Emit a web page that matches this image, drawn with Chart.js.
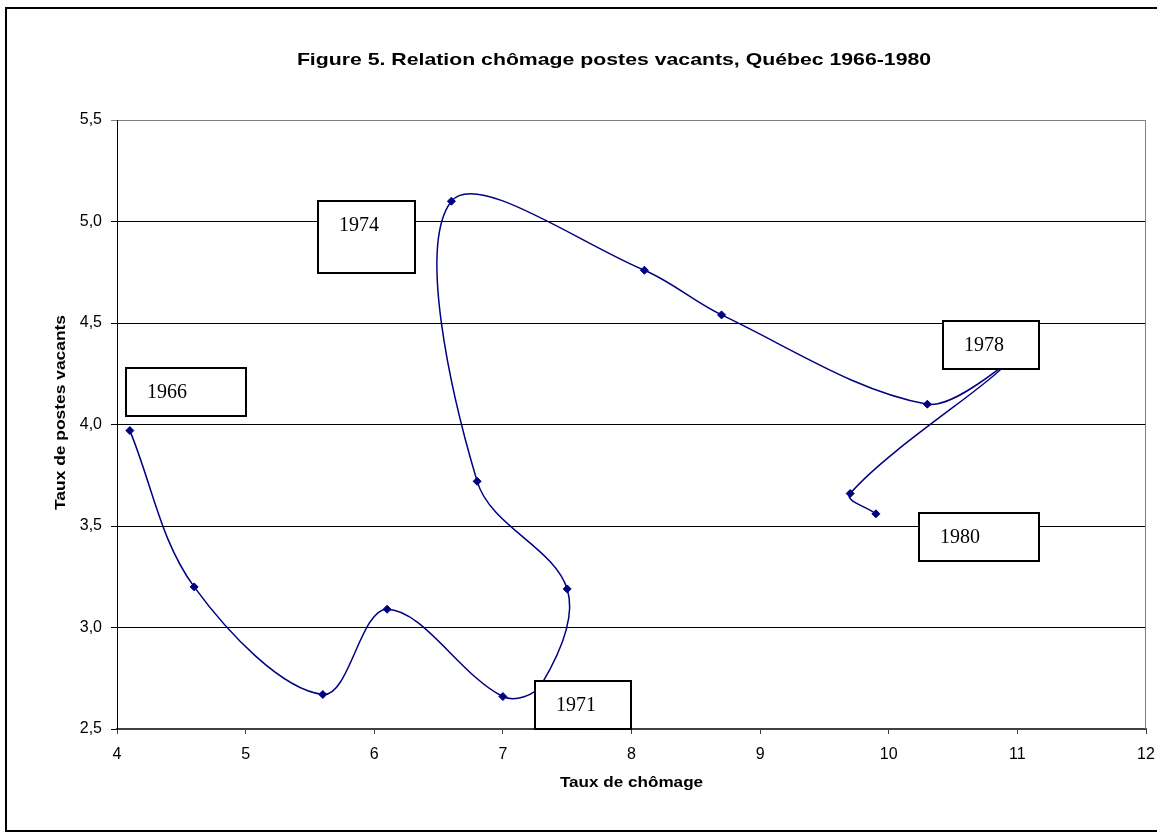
<!DOCTYPE html>
<html>
<head>
<meta charset="utf-8">
<script src="https://cdn.jsdelivr.net/npm/chart.js@4.4.0/dist/chart.umd.min.js"></script>
<style>
html,body{margin:0;padding:0;background:#fff;}
canvas{display:block;}
</style>
</head>
<body>
<canvas id="c" width="1157" height="839"></canvas>
<script>
// ---- data ----
const years = [1966,1967,1968,1969,1970,1971,1972,1973,1974,1975,1976,1977,1978,1979,1980];
const unemploymentRate = [4.1,4.6,5.6,6.1,7.0,7.3,7.5,6.8,6.6,8.1,8.7,10.3,10.9,9.7,9.9];
const vacancyRate = [3.97,3.20,2.67,3.09,2.66,2.72,3.19,3.72,5.10,4.76,4.54,4.10,4.29,3.66,3.56];
const xTickLabels = ['4','5','6','7','8','9','10','11','12'];
const yTickLabels = ['2,5','3,0','3,5','4,0','4,5','5,0','5,5'];
const labelledYears = ['1966','1971','1974','1978','1980'];
const chartTitle = 'Figure 5. Relation chômage postes vacants, Québec 1966-1980';
const xAxisTitle = 'Taux de chômage';
const yAxisTitle = 'Taux de postes vacants';

// ---- layout of the year text boxes (top-left in data units, size in px) ----
const boxLayout = {
  '1966': {x: 4.07,  y: 4.277, w: 120, h: 48},
  '1971': {x: 7.247, y: 2.735, w: 96,  h: 48},
  '1974': {x: 5.562, y: 5.101, w: 97,  h: 72},
  '1978': {x: 10.418,y: 4.509, w: 96,  h: 48},
  '1980': {x: 10.234,y: 3.565, w: 120, h: 48}
};

const points = unemploymentRate.map((x, i) => ({x: x, y: vacancyRate[i]}));
const NAVY = '#000080';
const SANS = "'Liberation Sans', Arial, sans-serif";
const SERIF = "'Liberation Serif', 'Times New Roman', serif";

function stretchedText(ctx, text, x, y, sx, rot) {
  ctx.save();
  ctx.translate(x, y);
  if (rot) ctx.rotate(rot);
  ctx.scale(sx, 1);
  ctx.textAlign = 'center';
  ctx.textBaseline = 'middle';
  ctx.fillText(text, 0, 0);
  ctx.restore();
}

const decor = {
  id: 'decor',
  beforeDraw(chart) {
    const ctx = chart.ctx;
    ctx.save();
    ctx.fillStyle = '#fff';
    ctx.fillRect(0, 0, chart.width, chart.height);
    ctx.strokeStyle = '#000';
    ctx.lineWidth = 2;
    ctx.strokeRect(6, 8, chart.width + 20, 823);
    ctx.restore();
  },
  beforeDatasetsDraw(chart) {
    const ctx = chart.ctx, a = chart.chartArea;
    ctx.save();
    ctx.strokeStyle = '#808080';
    ctx.lineWidth = 1;
    ctx.beginPath();
    ctx.moveTo(a.right - 0.5, a.top);
    ctx.lineTo(a.right - 0.5, a.bottom);
    ctx.stroke();
    ctx.restore();
  },
  afterDatasetsDraw(chart) {
    const ctx = chart.ctx, xs = chart.scales.x, ys = chart.scales.y;
    ctx.save();
    labelledYears.forEach(lbl => {
      const b = boxLayout[lbl];
      const left = Math.round(xs.getPixelForValue(b.x));
      const top = Math.round(ys.getPixelForValue(b.y));
      ctx.fillStyle = '#fff';
      ctx.fillRect(left, top, b.w, b.h);
      ctx.strokeStyle = '#000';
      ctx.lineWidth = 2;
      ctx.strokeRect(left, top, b.w, b.h);
      ctx.fillStyle = '#000';
      ctx.font = '20px ' + SERIF;
      ctx.textAlign = 'left';
      ctx.textBaseline = 'alphabetic';
      ctx.fillText(lbl, left + 21, top + 30);
    });
    ctx.restore();
  },
  afterDraw(chart) {
    const ctx = chart.ctx, a = chart.chartArea;
    ctx.save();
    ctx.fillStyle = '#000';
    ctx.font = 'bold 17px ' + SANS;
    stretchedText(ctx, chartTitle, 614, 60, 1.25, 0);
    ctx.font = 'bold 15px ' + SANS;
    stretchedText(ctx, xAxisTitle, (a.left + a.right) / 2, 783, 1.14, 0);
    stretchedText(ctx, yAxisTitle, 61, (a.top + a.bottom) / 2 - 12, 1.16, -Math.PI / 2);
    ctx.restore();
  }
};

new Chart(document.getElementById('c'), {
  type: 'scatter',
  data: {
    datasets: [{
      label: 'Relation chômage postes vacants',
      data: points,
      showLine: true,
      tension: 0.35,
      borderColor: NAVY,
      borderWidth: 1.5,
      backgroundColor: NAVY,
      pointStyle: 'rectRot',
      pointRadius: 4,
      pointBorderWidth: 1,
      pointBorderColor: NAVY,
      pointBackgroundColor: NAVY
    }]
  },
  options: {
    responsive: false,
    animation: false,
    events: [],
    layout: {padding: {top: 120, right: 11, bottom: 0, left: 0}},
    plugins: {
      legend: {display: false},
      title: {display: false},
      tooltip: {enabled: false}
    },
    scales: {
      x: {
        type: 'linear',
        min: 4, max: 12,
        afterFit(s) { s.height = 110; s.paddingLeft = 0; s.paddingRight = 0; },
        ticks: {
          stepSize: 1,
          padding: 11,
          color: '#000',
          font: {family: SANS, size: 16},
          callback: (v, i) => xTickLabels[i]
        },
        grid: {display: true, drawOnChartArea: false, drawTicks: true, tickLength: 5, color: '#404040', lineWidth: 1},
        border: {display: true, color: '#404040', width: 2}
      },
      y: {
        type: 'linear',
        min: 2.5, max: 5.5,
        afterFit(s) { s.width = 117; s.paddingTop = 0; s.paddingBottom = 0; },
        ticks: {
          stepSize: 0.5,
          padding: 9,
          color: '#000',
          font: {family: SANS, size: 16},
          callback: (v, i) => yTickLabels[i]
        },
        grid: {
          display: true,
          drawTicks: true,
          tickLength: 6,
          lineWidth: 1,
          color: c => (c.tick && c.tick.value === 5.5) ? '#808080' : '#000'
        },
        border: {display: true, color: '#000', width: 1}
      }
    }
  },
  plugins: [decor]
});
</script>
</body>
</html>
